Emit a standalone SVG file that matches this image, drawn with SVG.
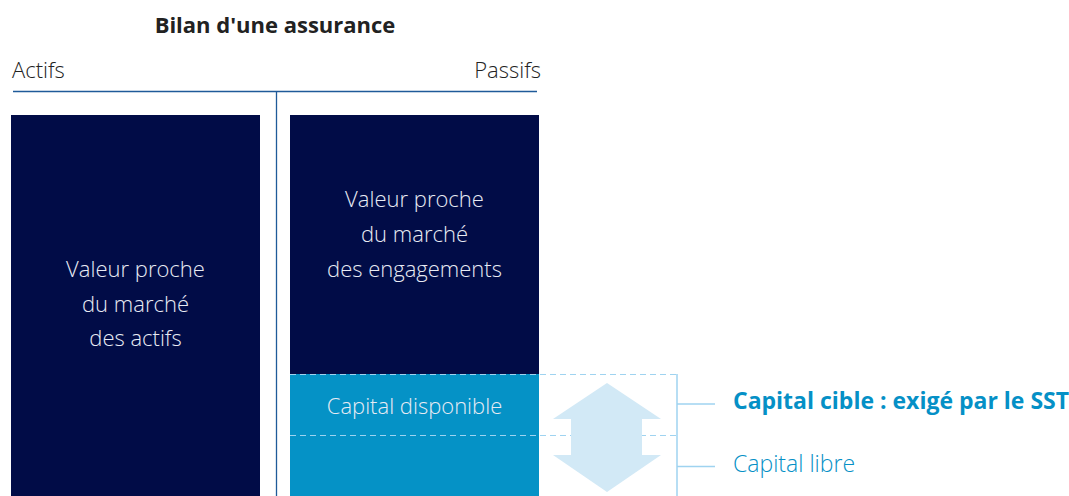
<svg xmlns="http://www.w3.org/2000/svg" width="1069" height="496" viewBox="0 0 1069 496">
<style>
text{font-family:"Open Sans","Liberation Sans",sans-serif}
.title{font-size:22px;font-weight:700;fill:#222}
.head{font-size:22px;font-weight:300;fill:#222}
.in{font-size:22px;font-weight:300;fill:#e8ebf4;text-anchor:middle}
.dash{stroke:#9fd3f0;stroke-width:1.2;stroke-dasharray:6 4;fill:none}
.br{stroke:#9fd3f0;stroke-width:1.5;fill:none}
.lbl{font-size:23px;fill:#0590c6}
</style>
<rect width="1069" height="496" fill="#fff"/>
<g id="header">
<text class="title" x="275" y="33" text-anchor="middle">Bilan d'une assurance</text>
<text class="head" x="12" y="78">Actifs</text>
<text class="head" x="541" y="78" text-anchor="end">Passifs</text>
<line x1="13" y1="91.5" x2="537" y2="91.5" stroke="#1f5a99" stroke-width="1.3"/>
<line x1="276.5" y1="91" x2="276.5" y2="496" stroke="#1f5a99" stroke-width="1.3"/>
</g>
<g id="actifs">
<rect x="11" y="115" width="249" height="381" fill="#010c47"/>
<text class="in" x="135.5" y="277">Valeur proche</text>
<text class="in" x="135.5" y="312">du marché</text>
<text class="in" x="135.5" y="346">des actifs</text>
</g>
<g id="engagements">
<rect x="290" y="115" width="249" height="259" fill="#010c47"/>
<text class="in" x="414.5" y="207">Valeur proche</text>
<text class="in" x="414.5" y="242">du marché</text>
<text class="in" x="414.5" y="277">des engagements</text>
</g>
<g id="capital">
<rect x="290" y="374" width="249" height="122" fill="#0592c6"/>
<text class="in" x="414.5" y="414">Capital disponible</text>
</g>
<g id="connectors">
<line class="dash" x1="290" y1="374.5" x2="677" y2="374.5"/>
<line class="dash" x1="290" y1="435.5" x2="677" y2="435.5"/>
<polyline class="br" points="677,374 677,496"/>
<line class="br" x1="677" y1="404" x2="715" y2="404"/>
<line class="br" x1="677" y1="466.5" x2="715" y2="466.5"/>
</g>
<g id="arrow">
<polygon points="607,383 661,419 642,419 642,455 661,455 607,492 553,455 571,455 571,419 553,419" fill="#d2e9f6"/>
</g>
<g id="labels">
<text class="lbl" x="733" y="409" font-weight="700">Capital cible : exigé par le SST</text>
<text class="lbl" x="733" y="472" font-weight="300">Capital libre</text>
</g>
</svg>
